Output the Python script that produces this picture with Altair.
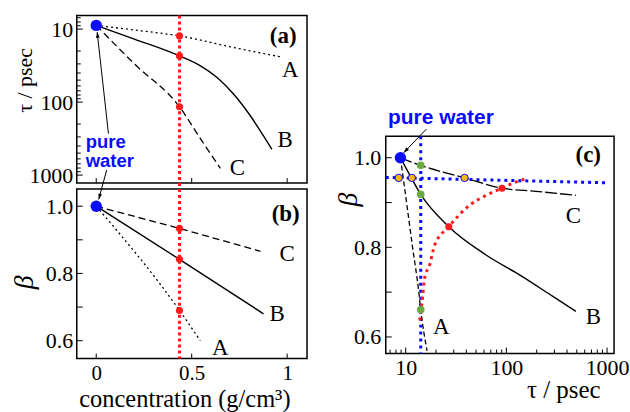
import math
import altair as alt
import pandas as pd

SERIF = "Liberation Serif"
SANS = "Liberation Sans"
BLUE = "#0a0aff"
RED = "#ff1a1a"
GREEN = "#6aaa45"
ORANGE = "#ffb414"

# ---------------- panel (a): tau vs concentration ----------------
a_A_conc = [0, 0.2, 0.436, 0.72, 0.965]
a_A_tau = [8.9, 10.3, 12.4, 17.9, 24.0]
a_B_conc = [0, 0.2, 0.436, 0.546, 0.633, 0.72, 0.807, 0.876, 0.92]
a_B_tau = [8.9, 13.7, 23.3, 31.9, 46.1, 78.2, 154, 290, 443]
a_C_conc = [0, 0.2, 0.436, 0.55, 0.65]
a_C_tau = [8.9, 30, 116, 330, 807]
red_conc = 0.436
a_red_tau = [12.4, 23.3, 116]
water_tau_a = 8.9
a_lab_text = ["A", "B", "C"]
a_lab_conc = [1.016, 0.99, 0.739]
a_lab_tau = [35.9, 327, 789]

# ---------------- panel (b): beta vs concentration ----------------
b_A_conc = [0, 0.436, 0.545]
b_A_beta = [1.0, 0.69, 0.60]
b_B_conc = [0, 0.436, 0.876]
b_B_beta = [1.0, 0.842, 0.68]
b_C_conc = [0, 0.436, 0.86]
b_C_beta = [1.0, 0.934, 0.866]
b_red_beta = [0.934, 0.842, 0.69]
water_beta = 1.0
b_lab_text = ["C", "B", "A"]
b_lab_conc = [1.0, 0.948, 0.65]
b_lab_beta = [0.857, 0.679, 0.577]

# ---------------- panel (c): beta vs tau ----------------
c_A_tau = [8.86, 10.2, 11.7, 13.5, 14.1, 16.3]
c_A_beta = [1.0, 0.9, 0.8, 0.7, 0.661, 0.569]
c_B_tau = [8.86, 11.0, 14.1, 26.8, 62.8, 134, 287, 490]
c_B_beta = [1.0, 0.961, 0.918, 0.846, 0.783, 0.739, 0.691, 0.657]
c_C_tau = [8.86, 14.1, 38.4, 90.5, 197, 490]
c_C_beta = [1.0, 0.983, 0.955, 0.932, 0.925, 0.916]
c_red_tau = [13.8, 14.8, 15.4, 17.3, 19.4, 26.8, 43.1, 62.8, 90.5, 125, 157]
c_red_beta = [0.637, 0.694, 0.731, 0.761, 0.805, 0.846, 0.894, 0.916, 0.932, 0.946, 0.953]
c_redpt_tau = [26.8, 90.5]
c_redpt_beta = [0.846, 0.932]
c_green_tau = [14.1, 14.1, 14.1]
c_green_beta = [0.983, 0.918, 0.661]
c_orange_tau = [8.53, 11.5, 38.4]
c_orange_beta = [0.955, 0.955, 0.955]
water_tau_c = 8.86
c_vline_tau = 14.1
c_hline_tau = [6.34, 1000]
c_hline_beta = [0.956, 0.944]
c_lab_text = ["A", "B", "C"]
c_lab_tau = [22.5, 731, 464]
c_lab_beta = [0.622, 0.645, 0.870]

# tick values
log_major = [10, 100, 1000]
log_minor = [7, 8, 9, 20, 30, 40, 50, 60, 70, 80, 90, 200, 300, 400, 500, 600, 700, 800, 900]
conc_ticks = [0, 0.5, 1]
beta_ticks = [0.6, 0.7, 0.8, 0.9, 1.0]

# ---------------- geometry ----------------
WA, HA = 231, 168
WB, HB = 231, 170
WC, HC = 229, 218
XA_DOM = [-0.102, 1.104]
YA_DOM = [6.54, 1286]
YB_DOM = [0.547, 1.051]
XC_DOM = [6.34, 1173]
YC_DOM = [0.563, 1.048]


def lin(v, d0, d1, p0, p1):
    return p0 + (v - d0) / (d1 - d0) * (p1 - p0)


def logm(v, d0, d1, p0, p1):
    return p0 + (math.log10(v) - math.log10(d0)) / (math.log10(d1) - math.log10(d0)) * (p1 - p0)


def head_angle(p_start, p_tip):
    dx = p_tip[0] - p_start[0]
    dy = p_tip[1] - p_start[1]
    return math.degrees(math.atan2(dx, -dy)) % 360


ARROW_PATH = "M0,0L-0.75,2.3L0.75,2.3Z"

# arrows (data coordinates)
arr_a = dict(x=0.064, y=270.0, x2=0.005, y2=11.0)
arr_b = dict(x=0.0548, y=1.1076, x2=0.013, y2=1.020)
arr_c = dict(x=16.03, y=1.0639, x2=9.55, y2=1.011)

pa = lambda c, t: (lin(c, *XA_DOM, 0, WA), logm(t, *YA_DOM, 0, HA))
pb = lambda c, b: (lin(c, *XA_DOM, 0, WB), lin(b, YB_DOM[1], YB_DOM[0], 0, HB))
pc = lambda t, b: (logm(t, *XC_DOM, 0, WC), lin(b, YC_DOM[1], YC_DOM[0], 0, HC))

ang_a = head_angle(pa(arr_a["x"], arr_a["y"]), pa(arr_a["x2"], arr_a["y2"]))
ang_b = head_angle(pb(arr_b["x"], arr_b["y"]), pb(arr_b["x2"], arr_b["y2"]))
ang_c = head_angle(pc(arr_c["x"], arr_c["y"]), pc(arr_c["x2"], arr_c["y2"]))


def df(xs, ys):
    return pd.DataFrame({"x": xs, "y": ys, "o": list(range(len(xs)))})


def one(x, y):
    return pd.DataFrame({"x": [x], "y": [y]})


# ---------------- encodings ----------------
xa_scale = alt.Scale(domain=XA_DOM, nice=False, zero=False)
ya_scale = alt.Scale(type="log", domain=YA_DOM, reverse=True, nice=False)
yb_scale = alt.Scale(domain=YB_DOM, nice=False, zero=False)
xc_scale = alt.Scale(type="log", domain=XC_DOM, nice=False)
yc_scale = alt.Scale(domain=YC_DOM, nice=False, zero=False)

XA = lambda: alt.X("x:Q", scale=xa_scale, axis=None)
YA = lambda: alt.Y("y:Q", scale=ya_scale, axis=alt.Axis(
    values=log_major, format="d", ticks=False, domain=False, grid=False,
    labelFontSize=22, labelPadding=4, title="τ / psec", titleFontSize=22,
    titleAngle=270, titleX=-52, titleY=97, titleAlign="left", titleBaseline="middle"))
XB = lambda: alt.X("x:Q", scale=xa_scale, axis=alt.Axis(
    values=conc_ticks, format="~g", ticks=False, domain=False, grid=False,
    labelFontSize=21, labelPadding=4, title="concentration (g/cm³)", titleFontSize=24.5,
    titleX=108, titleY=48, titleAlign="center", titleBaseline="alphabetic"))
YB = lambda: alt.Y("y:Q", scale=yb_scale, axis=alt.Axis(
    values=[0.6, 0.8, 1.0], format=".1f", ticks=False, domain=False, grid=False,
    labelFontSize=22, labelPadding=4, title="β", titleFontSize=28, titleFontStyle="italic",
    titleAngle=270, titleX=-52, titleY=100, titleAlign="left", titleBaseline="middle"))
XC = lambda: alt.X("x:Q", scale=xc_scale, axis=alt.Axis(
    values=log_major, format="d", ticks=False, domain=False, grid=False,
    labelFontSize=22, labelPadding=4, title="τ / psec", titleFontSize=25,
    titleX=178, titleY=44, titleAlign="center", titleBaseline="alphabetic"))
YC = lambda: alt.Y("y:Q", scale=yc_scale, axis=alt.Axis(
    values=[0.6, 0.8, 1.0], format=".1f", ticks=False, domain=False, grid=False,
    labelFontSize=22, labelPadding=5, title="β", titleFontSize=28, titleFontStyle="italic",
    titleAngle=270, titleX=-37, titleY=70, titleAlign="left", titleBaseline="middle"))


def line(d, X, Y, dash, width=1.3, color="black", smooth=False):
    kw = dict(color=color, strokeWidth=width)
    if dash:
        kw["strokeDash"] = dash
    if smooth:
        kw["interpolate"] = "monotone"
    return alt.Chart(d).mark_line(**kw).encode(x=X(), y=Y(), order="o:Q")


def pts(d, X, Y, color, size, stroke=None):
    kw = dict(filled=True, color=color, size=size, opacity=1)
    if stroke:
        kw.update(stroke=stroke, strokeWidth=1)
    return alt.Chart(d).mark_point(**kw).encode(x=X(), y=Y())


def texts(d, X, Y, size, font=SERIF, weight="normal", color="black", align="center",
          baseline="middle"):
    return alt.Chart(d).mark_text(font=font, fontSize=size, fontWeight=weight, color=color,
                                  align=align, baseline=baseline).encode(
        x=X(), y=Y(), text="t:N")


def arrow(a, X, Y, ang):
    d = pd.DataFrame({"x": [a["x"]], "y": [a["y"]], "x2": [a["x2"]], "y2": [a["y2"]]})
    shaft = alt.Chart(d).mark_rule(color="black", strokeWidth=1).encode(
        x=X(), y=Y(), x2="x2:Q", y2="y2:Q")
    head = alt.Chart(pd.DataFrame({"x": [a["x2"]], "y": [a["y2"]]})).mark_point(
        shape=ARROW_PATH, filled=True, color="black", size=25, angle=ang, opacity=1).encode(
        x=X(), y=Y())
    return [shaft, head]


def left_ticks(vals, Y, L):
    return alt.Chart(pd.DataFrame({"y": vals})).mark_rule(color="black", strokeWidth=1).encode(
        y=Y(), x=alt.value(0), x2=alt.value(L))


def bottom_ticks(vals, X, H, L):
    return alt.Chart(pd.DataFrame({"x": vals})).mark_rule(color="black", strokeWidth=1).encode(
        x=X(), y=alt.value(H), y2=alt.value(H - L))


# ---------------- panel (a) ----------------
ta = pd.DataFrame({"t": a_lab_text, "x": a_lab_conc, "y": a_lab_tau})
layers_a = [
    alt.Chart(pd.DataFrame({"x": [red_conc]})).mark_rule(
        color=RED, strokeWidth=3, strokeDash=[3, 3]).encode(x=XA()),
    line(df(a_A_conc, a_A_tau), XA, YA, [2, 3], smooth=True),
    line(df(a_B_conc, a_B_tau), XA, YA, None, 1.4, smooth=True),
    line(df(a_C_conc, a_C_tau), XA, YA, [7, 4], smooth=True),
    pts(df([red_conc] * 3, a_red_tau), XA, YA, RED, 50),
    pts(one(0, water_tau_a), XA, YA, BLUE, 130),
    texts(ta, XA, YA, 23),
    texts(pd.DataFrame({"t": ["(a)"], "x": [0.979], "y": [12.3]}), XA, YA, 23, weight="bold"),
    texts(pd.DataFrame({"t": ["pure", "water"], "x": [-0.055, -0.055], "y": [425, 775]}),
          XA, YA, 18.5, font=SANS, weight="bold", color=BLUE, align="left", baseline="alphabetic"),
    *arrow(arr_a, XA, YA, ang_a),
    left_ticks(log_major, YA, 6),
    left_ticks([v for v in log_minor if YA_DOM[0] < v < YA_DOM[1]], YA, 4),
    bottom_ticks(conc_ticks, XA, HA, 5),
]
chart_a = alt.layer(*layers_a).properties(width=WA, height=HA)

# ---------------- panel (b) ----------------
tb = pd.DataFrame({"t": b_lab_text, "x": b_lab_conc, "y": b_lab_beta})
layers_b = [
    alt.Chart(pd.DataFrame({"x": [red_conc]})).mark_rule(
        color=RED, strokeWidth=3, strokeDash=[3, 3]).encode(
        x=XB(), y=alt.value(-6), y2=alt.value(HB)),
    line(df(b_A_conc, b_A_beta), XB, YB, [2, 3], smooth=True),
    line(df(b_B_conc, b_B_beta), XB, YB, None, 1.4),
    line(df(b_C_conc, b_C_beta), XB, YB, [7, 4]),
    pts(df([red_conc] * 3, b_red_beta), XB, YB, RED, 50),
    pts(one(0, water_beta), XB, YB, BLUE, 130),
    texts(tb, XB, YB, 23),
    texts(pd.DataFrame({"t": ["(b)"], "x": [0.992], "y": [0.978]}), XB, YB, 23, weight="bold"),
    *arrow(arr_b, XB, YB, ang_b),
    left_ticks(beta_ticks, YB, 6),
    bottom_ticks(conc_ticks, XB, HB, 5),
]
chart_b = alt.layer(*layers_b).properties(width=WB, height=HB)

# ---------------- panel (c) ----------------
tc = pd.DataFrame({"t": c_lab_text, "x": c_lab_tau, "y": c_lab_beta})
layers_c = [
    alt.Chart(pd.DataFrame({"x": [c_vline_tau]})).mark_rule(
        color=BLUE, strokeWidth=3, strokeDash=[3, 4]).encode(x=XC()),
    line(df(c_hline_tau, c_hline_beta), XC, YC, [3, 4], 3, BLUE),
    line(df(c_A_tau, c_A_beta), XC, YC, [5, 3], smooth=True),
    line(df(c_B_tau, c_B_beta), XC, YC, None, 1.4, smooth=True),
    line(df(c_C_tau, c_C_beta), XC, YC, [12, 3], smooth=True),
    line(df(c_red_tau, c_red_beta), XC, YC, [3, 4], 3, RED, smooth=True),
    pts(df(c_redpt_tau, c_redpt_beta), XC, YC, RED, 50),
    pts(df(c_green_tau, c_green_beta), XC, YC, GREEN, 60),
    pts(df(c_orange_tau, c_orange_beta), XC, YC, ORANGE, 55, stroke=BLUE),
    pts(one(water_tau_c, water_beta), XC, YC, BLUE, 130),
    texts(tc, XC, YC, 23),
    texts(pd.DataFrame({"t": ["(c)"], "x": [650], "y": [1.007]}), XC, YC, 23, weight="bold"),
    texts(pd.DataFrame({"t": ["pure water"], "x": [6.68], "y": [1.075]}), XC, YC, 21,
          font=SANS, weight="bold", color=BLUE, align="left", baseline="alphabetic"),
    *arrow(arr_c, XC, YC, ang_c),
    left_ticks(beta_ticks, YC, 6),
    bottom_ticks(log_major, XC, HC, 6),
    bottom_ticks([v for v in log_minor if XC_DOM[0] < v < XC_DOM[1]], XC, HC, 4),
]
chart_c = alt.layer(*layers_c).properties(width=WC, height=HC)

spacer = alt.Chart(pd.DataFrame({"x": [0], "y": [0]})).mark_point(opacity=0).encode(
    x=alt.X("x:Q", axis=None), y=alt.Y("y:Q", axis=None)).properties(
    width=WC, height=111, view=alt.ViewBackground(stroke=None))

left = alt.vconcat(chart_a, chart_b, spacing=6, bounds="flush")
right = alt.vconcat(spacer, chart_c, spacing=10, bounds="flush")

# with flush bounds the nested column counts as zero width, so the spacing
# carries the left column's width plus the gap between the panels
chart = alt.hconcat(left, right, spacing=WA + 79, bounds="flush").properties(
    padding={"left": 10, "top": 12, "right": 0, "bottom": 0},
    background="white",
).configure_view(stroke="black", strokeWidth=1.5).configure_axis(
    labelFont=SERIF, titleFont=SERIF, labelColor="black", titleColor="black",
    titleFontWeight="normal",
)

chart.save("out.html", embed_options={"renderer": "svg", "actions": False})
